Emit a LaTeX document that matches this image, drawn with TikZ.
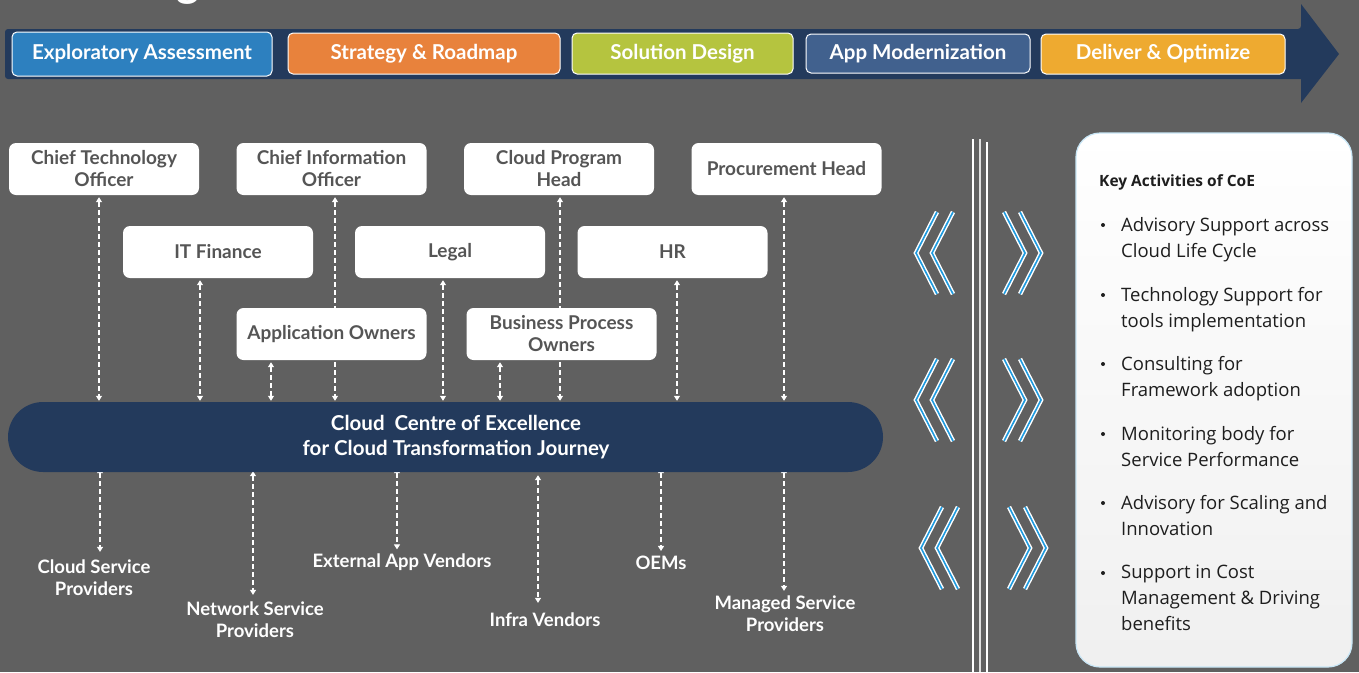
\documentclass[tikz,border=0pt]{standalone}
\usepackage{fontspec}
\setmainfont{Lato}
\newfontfamily\panelfont{Open Sans}
\usetikzlibrary{arrows.meta,calc}
\definecolor{bgc}{HTML}{606060}
\definecolor{navy}{HTML}{233A5C}
\definecolor{cexp}{HTML}{2D80BF}
\definecolor{cstr}{HTML}{E8823C}
\definecolor{csol}{HTML}{B5C43F}
\definecolor{capp}{HTML}{41618E}
\definecolor{cdel}{HTML}{EEAA30}
\definecolor{boxtxt}{HTML}{555555}
\definecolor{chevblue}{HTML}{1E9BE0}
\definecolor{paneltxt}{HTML}{1E1E1E}
\definecolor{glow}{HTML}{C8E6F6}
\pgfdeclarelayer{back}
\pgfdeclarelayer{lines}
\pgfsetlayers{back,lines,main}
\tikzset{
  phase/.style={draw=white, line width=1pt, rounded corners=5pt, text=white,
    font=\bfseries\fontsize{20.5}{22}\selectfont, inner sep=0pt},
  sbox/.style={fill=white, rounded corners=7pt, minimum width=190pt, minimum height=52pt,
    inner sep=0pt, align=center, text=boxtxt, font=\bfseries\fontsize{19}{22}\selectfont},
  conn/.style={draw=white, line width=1.1pt, dash pattern=on 5pt off 3pt,
    {Triangle[width=6pt,length=5pt]}-{Triangle[width=6pt,length=5pt]}},
  lbl/.style={text=white, align=center, font=\bfseries\fontsize{18.5}{22}\selectfont, inner sep=0pt},
  chevw/.style={draw=white, line width=4.5pt, line join=miter},
  chevb/.style={draw=chevblue, line width=1.6pt, line join=miter},
  item/.style={anchor=north west, inner sep=0pt, align=left, text=paneltxt,
    font=\panelfont\fontsize{18.5}{26}\selectfont},
  bul/.style={circle, fill=paneltxt, inner sep=0pt, minimum size=4pt}
}
\newcommand\chevpair[2]{%
  \begin{scope}[shift={(#1,#2)}]
    \foreach \p in {{(937,-41)--(916,0)--(937,41)},{(953,-41)--(932,0)--(953,41)},
                    {(1004,-41)--(1025,0)--(1004,41)},{(1020,-41)--(1041,0)--(1020,41)}}{
      \draw[chevw] \p; \draw[chevb] \p;}
  \end{scope}}
\begin{document}
\begin{tikzpicture}[x=1pt,y=-1pt]
\useasboundingbox (0,0) rectangle (1359,672);
\begin{pgfonlayer}{back}
  \fill[bgc] (0,0) rectangle (1359,672);
\end{pgfonlayer}

% cut-off title fragment
\begin{scope}
  \clip (0,0) rectangle (1359,20);
  \node[anchor=base, text=white, inner sep=0pt, font=\bfseries\fontsize{44}{44}\selectfont] (ttl) at (188,-3.5) {g};
\end{scope}

% phase banner arrow
\fill[navy, rounded corners=3pt] (5,29) -- (1301,29) [sharp corners] -- (1301,4) -- (1339,54) -- (1301,103) -- (1301,79) [rounded corners=3pt] -- (5,79) -- cycle;
\node[phase, fill=cexp, minimum width=260pt, minimum height=44pt] (p1) at (142,54) {Exploratory Assessment};
\node[phase, fill=cstr, minimum width=272pt, minimum height=41pt] (p2) at (424,53.5) {Strategy \& Roadmap};
\node[phase, fill=csol, minimum width=221pt, minimum height=41pt] (p3) at (682.5,53.5) {Solution Design};
\node[phase, fill=capp, minimum width=224pt, minimum height=39pt] (p4) at (918,53.5) {App Modernization};
\node[phase, fill=cdel, minimum width=244pt, minimum height=40pt] (p5) at (1163,54) {Deliver \& Optimize};

% stakeholders
\node[sbox] (cto) at (104,169) {Chief Technology\\Officer};
\node[sbox] (cio) at (331.5,169) {Chief Information\\Officer};
\node[sbox] (cph) at (559,169) {Cloud Program\\Head};
\node[sbox] (proc) at (786.5,169) {Procurement Head};
\node[sbox] (itf) at (218,252) {IT Finance};
\node[sbox] (legal) at (450,252) {Legal};
\node[sbox] (hr) at (672.5,252) {HR};
\node[sbox] (appo) at (331.5,334) {Application Owners};
\node[sbox] (bpo) at (561.5,334) {Business Process\\Owners};

% centre of excellence
\node[fill=navy, rounded corners=35pt, minimum width=875pt, minimum height=70pt, inner sep=0pt] (coe) at (445.5,437) {};
\node[text=white, align=center, inner sep=0pt, font=\bfseries\fontsize{20.5}{25}\selectfont] (coetext) at (456,437) {Cloud\ \ Centre of Excellence\\for Cloud Transformation Journey};

% bottom labels
\node[lbl] (csp) at (94,578) {Cloud Service\\Providers};
\node[lbl] (nsp) at (255,620) {Network Service\\Providers};
\node[lbl] (eav) at (402,562) {External App Vendors};
\node[lbl] (infra) at (545,620) {Infra Vendors};
\node[lbl] (oem) at (661,563) {OEMs};
\node[lbl] (msp) at (785,614) {Managed Service\\Providers};

% connectors
\begin{pgfonlayer}{lines}
  \draw[conn] ($(cto.south)+(-5,2)$) -- ($(cto.south |- coe.north)+(-5,-1)$);
  \draw[conn] ($(itf.south)+(-18,2)$) -- ($(itf.south |- coe.north)+(-18,-1)$);
  \draw[conn] ($(appo.south)+(-60.5,2)$) -- ($(appo.south |- coe.north)+(-60.5,-1)$);
  \draw[conn] ($(cio.south)+(3.5,2)$) -- ($(cio.south |- coe.north)+(3.5,-1)$);
  \draw[conn] ($(legal.south)+(-7,2)$) -- ($(legal.south |- coe.north)+(-7,-1)$);
  \draw[conn] ($(bpo.south)+(-61.5,2)$) -- ($(bpo.south |- coe.north)+(-61.5,-1)$);
  \draw[conn] ($(cph.south)+(1,2)$) -- ($(cph.south |- coe.north)+(1,-1)$);
  \draw[conn] ($(hr.south)+(4.5,2)$) -- ($(hr.south |- coe.north)+(4.5,-1)$);
  \draw[conn] ($(proc.south)+(-2.5,2)$) -- ($(proc.south |- coe.north)+(-2.5,-1)$);

  \draw[conn] ($(csp.north |- coe.south)+(6,-4)$) -- ($(csp.north)+(6,-8)$);
  \draw[conn] ($(nsp.north |- coe.south)+(-2,-1)$) -- ($(nsp.north)+(-2,-7)$);
  \draw[conn] ($(eav.north |- coe.south)+(-5,-4)$) -- ($(eav.north)+(-5,-4)$);
  \draw[conn] ($(infra.north |- coe.south)+(-7,3)$) -- ($(infra.north)+(-7,-10)$);
  \draw[conn] ($(oem.north |- coe.south)+(0,-4)$) -- ($(oem.north)+(0,-5)$);
  \draw[conn] ($(msp.north |- coe.south)+(-1,-4)$) -- ($(msp.north)+(-1,-5)$);
\end{pgfonlayer}

% separator lines
\draw[white, line width=1.3pt] (973,139) -- (973,672);
\draw[white!80!bgc, line width=1.3pt] (980,139) -- (980,672);
\draw[white, line width=1.3pt] (987,142) -- (987,672);

% chevrons
\chevpair{0}{253}
\chevpair{0}{400}
\chevpair{5}{548}

% key activities panel
\shade[top color=white, bottom color=gray!12, rounded corners=24pt] (1076,133) rectangle (1352,667);
\draw[glow, line width=1.2pt, rounded corners=24pt] (1076,133) rectangle (1352,667);
\node[anchor=west, inner sep=0pt, text=paneltxt, font=\panelfont\bfseries\fontsize{15.5}{20}\selectfont] (kt) at (1099,182) {Key Activities of CoE};
\node[bul] (b1) at (1103,225) {};
\node[item] (a1) at (1121,217) {Advisory Support across\\Cloud Life Cycle};
\node[bul] (b2) at (1103,295) {};
\node[item] (a2) at (1121,287) {Technology Support for\\tools implementation};
\node[bul] (b3) at (1103,364) {};
\node[item] (a3) at (1121,356) {Consulting for\\Framework adoption};
\node[bul] (b4) at (1103,434) {};
\node[item] (a4) at (1121,426) {Monitoring body for\\Service Performance};
\node[bul] (b5) at (1103,503) {};
\node[item] (a5) at (1121,495) {Advisory for Scaling and\\Innovation};
\node[bul] (b6) at (1103,573) {};
\node[item] (a6) at (1121,565) {Support in Cost\\Management \& Driving\\benefits};
\end{tikzpicture}
\end{document}
